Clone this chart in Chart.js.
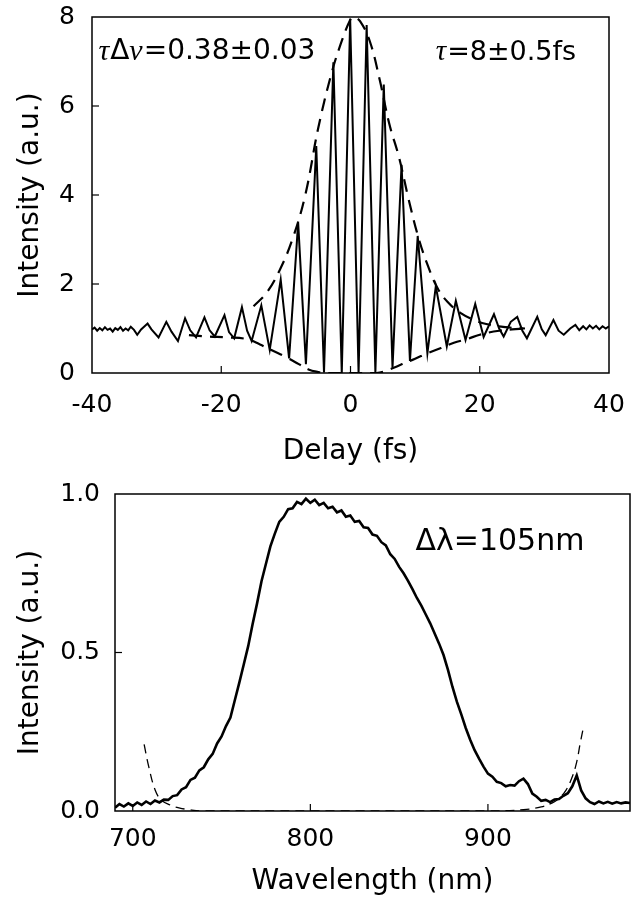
<!DOCTYPE html>
<html>
<head>
<meta charset="utf-8">
<script src="https://cdn.jsdelivr.net/npm/chart.js@4.4.1/dist/chart.umd.min.js"></script>
<style>
  body{margin:0;background:#fff;}
  canvas{position:absolute;left:0;}
  #acChart{top:0;}
  #specChart{top:470px;}
</style>
</head>
<body>
<canvas id="acChart" width="642" height="470"></canvas>
<canvas id="specChart" width="642" height="432"></canvas>
<script>
// ---- top panel: interferometric autocorrelation ----
const acDelay = [-40,-39.6,-39.2,-38.8,-38.4,-38,-37.6,-37.2,-36.8,-36.4,-36,-35.6,-35.2,-34.8,-34.4,-34,-33.5,-33,-32.4,-31.4,
  -30.8,-29.7,-28.5,-27.7,-26.7,-25.6,-24.8,-23.9,-22.6,-21.8,-21,-19.5,-18.8,-18,-16.8,-16,-15.3,-13.8,-12.5,-10.8,
  -9.5,-8.1,-6.9,-5.3,-4.1,-2.65,-1.35,-0.05,1.25,2.5,3.85,5.15,6.5,7.9,9.2,10.4,11.9,13.2,14.9,16.3,
  17.8,19.3,20.6,22.2,23,23.7,24.8,25.8,26.6,27.3,28.9,29.6,30.2,31.4,32.2,33,34,34.8,35.4,36,
  36.5,37,37.5,38,38.5,39,39.5,40];
const acIntensity = [0.98,1.02,0.95,1.01,0.96,1.03,0.97,1.00,0.93,1.01,0.97,1.03,0.95,1.00,0.96,1.04,0.97,0.86,0.98,1.11,
  0.98,0.80,1.15,0.93,0.72,1.23,0.96,0.80,1.25,0.96,0.82,1.30,0.92,0.78,1.48,0.95,0.72,1.52,0.52,2.10,
  0.33,3.38,0.20,5.10,0.01,6.98,0.00,7.95,0.00,7.82,0.01,6.48,0.12,4.68,0.27,3.08,0.44,1.95,0.60,1.62,
  0.74,1.55,0.81,1.32,1.00,0.82,1.15,1.26,0.95,0.78,1.26,0.98,0.85,1.19,0.95,0.86,1.00,1.08,0.96,1.05,
  0.98,1.07,1.00,1.06,0.98,1.05,1.00,1.05];

const upperEnvDelay = [-15,-13,-11,-9,-7,-5,-3,-1.5,0,0.5,1.5,3,4.5,6,7.5,9,10.5,12,13.5,15,17,19,21,24,27];
const upperEnvValue = [1.5,1.8,2.3,3.0,4.0,5.5,6.7,7.4,7.95,8.0,7.9,7.45,6.6,5.6,4.85,3.9,3.05,2.4,1.9,1.6,1.35,1.2,1.1,1.03,1.0];

const lowerEnvDelay = [-25,-22,-19,-16,-14,-12,-10,-8,-6.5,-5,-4,4,6,8,10,12,14,16,18,20,23,27];
const lowerEnvValue = [0.85,0.82,0.8,0.76,0.64,0.5,0.36,0.2,0.08,0.02,0,0,0.08,0.2,0.32,0.45,0.56,0.68,0.76,0.86,0.95,1.0];

const delayTicks = [-40,-20,0,20,40];
const acTicks = [0,2,4,6,8];

// ---- bottom panel: spectrum ----
const wavelengthNm = [690,692.5,695,697.5,700,702.5,705,707.5,710,712.5,715,717.5,720,722.5,725,727.5,730,732.5,735,737.5,
  740,742.5,745,747.5,750,752.5,755,757.5,760,762.5,765,767.5,770,772.5,775,777.5,780,782.5,785,787.5,
  790,792.5,795,797.5,800,802.5,805,807.5,810,812.5,815,817.5,820,822.5,825,827.5,830,832.5,835,837.5,
  840,842.5,845,847.5,850,852.5,855,857.5,860,862.5,865,867.5,870,872.5,875,877.5,880,882.5,885,887.5,
  890,892.5,895,897.5,900,902.5,905,907.5,910,912.5,915,917.5,920,922.5,925,927.5,930,932.5,935,937.5,
  940,942.5,945,947.5,950,952.5,955,957.5,960,962.5,965,967.5,970,972.5,975,977.5,980];
const spectrum = [0.010,0.022,0.014,0.024,0.016,0.027,0.019,0.030,0.022,0.033,0.027,0.036,0.035,0.047,0.050,0.068,0.075,0.098,0.105,0.128,
  0.138,0.163,0.180,0.213,0.235,0.268,0.295,0.350,0.405,0.462,0.520,0.590,0.655,0.725,0.780,0.835,0.875,0.912,0.928,0.952,
  0.955,0.975,0.968,0.985,0.972,0.982,0.965,0.972,0.955,0.960,0.942,0.948,0.928,0.932,0.912,0.915,0.895,0.893,0.872,0.868,
  0.848,0.838,0.810,0.795,0.770,0.750,0.726,0.700,0.672,0.648,0.620,0.592,0.560,0.528,0.492,0.445,0.392,0.345,0.305,0.262,
  0.225,0.192,0.165,0.140,0.118,0.108,0.092,0.088,0.078,0.082,0.080,0.094,0.102,0.085,0.055,0.045,0.032,0.035,0.028,0.036,
  0.038,0.048,0.056,0.078,0.112,0.065,0.040,0.028,0.022,0.030,0.024,0.029,0.023,0.028,0.024,0.027,0.025];

const fitWl = [706.4,709,712.6,716,721,726,732,740,800,900,920,930,936,940,944,947.5,950,952,954];
const fitValue = [0.21,0.14,0.066,0.035,0.019,0.01,0.004,0,0,0,0.004,0.013,0.025,0.04,0.066,0.108,0.155,0.215,0.27];

const wlTicks = [700,800,900];
const specTicks = [0,0.5,1.0];

const FONT = 'DejaVu Sans';
const pts = (xs, ys) => xs.map((x, i) => ({x: x, y: ys[i]}));

// frame, inward ticks and text notes
const boxPlugin = {
  id: 'box',
  afterDraw(chart, args, opts){
    const {ctx, chartArea: a, scales} = chart;
    ctx.save();
    ctx.strokeStyle = '#000';
    ctx.lineWidth = 1.5;
    ctx.strokeRect(a.left, a.top, a.right - a.left, a.bottom - a.top);
    ctx.lineWidth = 1.2;
    const len = 7;
    scales.x.ticks.forEach(t => {
      const px = scales.x.getPixelForValue(t.value);
      if(px <= a.left + 2 || px >= a.right - 2) return;
      ctx.beginPath(); ctx.moveTo(px, a.bottom); ctx.lineTo(px, a.bottom - len); ctx.stroke();
    });
    scales.y.ticks.forEach(t => {
      const py = scales.y.getPixelForValue(t.value);
      if(py <= a.top + 2 || py >= a.bottom - 2) return;
      ctx.beginPath(); ctx.moveTo(a.left, py); ctx.lineTo(a.left + len, py); ctx.stroke();
    });
    ctx.fillStyle = '#000';
    ctx.textBaseline = 'middle';
    ctx.textAlign = 'left';
    (opts.notes || []).forEach(n => {
      let x = scales.x.getPixelForValue(n.x);
      const y = scales.y.getPixelForValue(n.y);
      n.parts.forEach(p => {
        ctx.font = p.greek ? 'italic ' + (n.size + 2) + 'px "Liberation Serif"' : n.size + 'px "' + FONT + '"';
        ctx.fillText(p.t, x, y);
        x += ctx.measureText(p.t).width + (p.greek ? 1 : 0);
      });
    });
    ctx.restore();
  }
};

const tickFont = {family: FONT, size: 25};
const titleFont = {family: FONT, size: 28};

// fixed scale sizes so the plot boxes sit where the reference has them
function noPad(s){ s.paddingTop = 0; s.paddingBottom = 0; s.paddingLeft = 0; s.paddingRight = 0; }

function axisX(min, max, ticks, height, title, pad, titlePad, fmt){
  return {
    type: 'linear', min: min, max: max,
    afterBuildTicks: s => { s.ticks = ticks.map(v => ({value: v})); },
    afterFit: s => { s.height = height; noPad(s); },
    grid: {display: false, drawTicks: false},
    border: {display: false},
    ticks: {color: '#000', font: tickFont, padding: pad, maxRotation: 0, callback: fmt},
    title: {display: true, text: title, color: '#000', font: titleFont, padding: titlePad}
  };
}
function axisY(min, max, ticks, width, pad, fmt){
  return {
    type: 'linear', min: min, max: max,
    afterBuildTicks: s => { s.ticks = ticks.map(v => ({value: v})); },
    afterFit: s => { s.width = width; noPad(s); },
    grid: {display: false, drawTicks: false},
    border: {display: false},
    ticks: {color: '#000', font: tickFont, padding: pad, callback: fmt},
    title: {display: true, text: 'Intensity (a.u.)', color: '#000', font: titleFont, padding: 14}
  };
}

new Chart(document.getElementById('acChart'), {
  type: 'line',
  data: {
    datasets: [
      {data: pts(acDelay, acIntensity), borderColor: '#000', borderWidth: 2, pointRadius: 0, tension: 0},
      {data: pts(upperEnvDelay, upperEnvValue), borderColor: '#000', borderWidth: 2.2, borderDash: [13, 8], pointRadius: 0, tension: 0.4},
      {data: pts(lowerEnvDelay, lowerEnvValue), borderColor: '#000', borderWidth: 2.2, borderDash: [13, 8], pointRadius: 0, tension: 0.4}
    ]
  },
  options: {
    responsive: false, animation: false, events: [],
    layout: {padding: {left: 0, top: 17, right: 33, bottom: 0}},
    plugins: {
      legend: {display: false}, tooltip: {enabled: false},
      box: {notes: [
        {x: -39.0, y: 7.22, size: 28, parts: [{t: 'τ', greek: true}, {t: 'Δ'}, {t: 'ν', greek: true}, {t: '=0.38±0.03'}]},
        {x: 13.2, y: 7.2, size: 27, parts: [{t: 'τ', greek: true}, {t: '=8±0.5fs'}]}
      ]}
    },
    scales: {
      x: axisX(-40, 40, delayTicks, 97, 'Delay (fs)', 17, 1, v => String(v)),
      y: axisY(0, 8, acTicks, 92, 17, v => String(v))
    }
  },
  plugins: [boxPlugin]
});

new Chart(document.getElementById('specChart'), {
  type: 'line',
  data: {
    datasets: [
      {data: pts(wavelengthNm, spectrum), borderColor: '#000', borderWidth: 2.6, pointRadius: 0, tension: 0},
      {data: pts(fitWl, fitValue), borderColor: '#000', borderWidth: 1.3, borderDash: [9, 6], pointRadius: 0, tension: 0.4}
    ]
  },
  options: {
    responsive: false, animation: false, events: [],
    layout: {padding: {left: 0, top: 24, right: 12, bottom: 0}},
    plugins: {
      legend: {display: false}, tooltip: {enabled: false},
      box: {notes: [
        {x: 859.2, y: 0.847, size: 30, parts: [{t: 'Δλ=105nm'}]}
      ]}
    },
    scales: {
      x: axisX(690, 980, wlTicks, 91, 'Wavelength (nm)', 13, 3, v => String(v)),
      y: axisY(0, 1, specTicks, 115, 15, v => Number(v).toFixed(1))
    }
  },
  plugins: [boxPlugin]
});
</script>
</body>
</html>
